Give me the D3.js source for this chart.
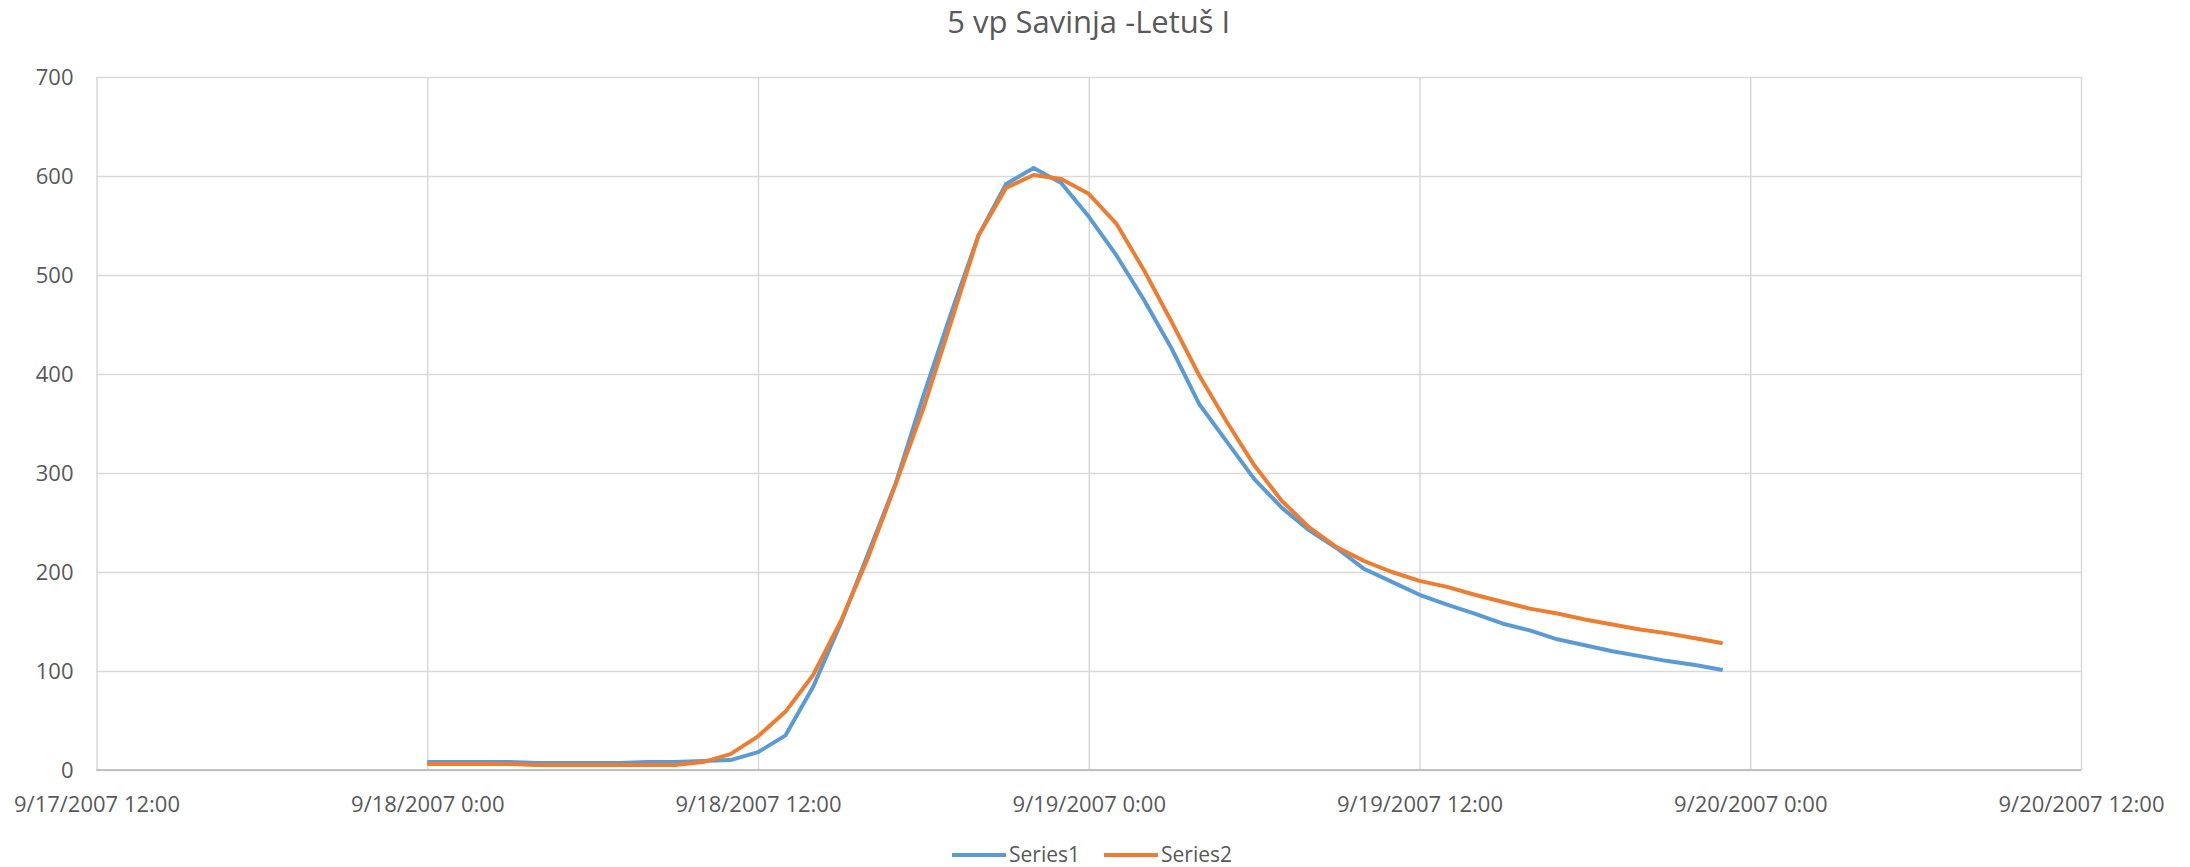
<!DOCTYPE html>
<html>
<head>
<meta charset="utf-8">
<script src="https://cdn.jsdelivr.net/npm/d3@7"></script>
<style>
	body { margin: 0; background: #fff; }
	#chart text { font-family: "Open Sans", sans-serif; fill: #595959; }
</style>
</head>
<body>
<div id="chart"></div>
<script>
var title = "5 vp Savinja -Letuš I";
var seriesNames = ["Series1", "Series2"];
var seriesColors = ["#5B9BD5", "#ED7D31"];

// hourly readings, 9/18/2007 0:00 .. 9/19/2007 23:00
var firstHour = "2007-09-18 00:00";
var lastHour = "2007-09-19 23:00";

var series1 = [8, 8, 8, 8, 7, 7, 7, 7, 8, 8,
	9, 10, 18, 35, 84, 148, 219, 290, 378, 461,
	540, 592, 608, 593, 559, 520, 475, 426, 370, 332,
	294, 265, 242, 224, 203, 190, 177, 167, 158, 148,
	141, 132, 126, 120, 115, 110, 106, 101];

var series2 = [6, 6, 6, 6, 5, 5, 5, 5, 5, 5,
	8, 16, 34, 59, 96, 150, 215, 289, 365, 452,
	540, 588, 601, 597, 582, 552, 505, 453, 399, 352,
	308, 272, 245, 225, 211, 200, 191, 185, 177, 170,
	163, 158, 152, 147, 142, 138, 133, 128];

var xDomain = ["2007-09-17 12:00", "2007-09-20 12:00"];
var yTicks = [0, 100, 200, 300, 400, 500, 600, 700];

function chart() {
	var W = 2190, H = 867;
	var margin = {top: 77, right: 109, bottom: 97, left: 96.5};
	var width = W - margin.left - margin.right;
	var height = H - margin.top - margin.bottom;

	var parse = d3.timeParse("%Y-%m-%d %H:%M");
	var hours = d3.timeHour.range(parse(firstHour), d3.timeHour.offset(parse(lastHour), 1));

	var x = d3.scaleTime().domain(xDomain.map(parse)).range([0, width]);
	var y = d3.scaleLinear().domain([0, 700]).range([height, 0]);
	var xTicks = d3.timeHour.every(12).range(x.domain()[0], d3.timeHour.offset(x.domain()[1], 1));

	var svg = d3.select("#chart").append("svg")
		.attr("width", W)
		.attr("height", H);

	svg.append("text")
		.attr("x", margin.left + width / 2)
		.attr("y", 33)
		.attr("text-anchor", "middle")
		.style("font-size", "31px")
		.text(title);

	var g = svg.append("g")
		.attr("transform", "translate(" + margin.left + "," + margin.top + ")");

	// horizontal gridlines + y labels
	var yAxis = g.append("g")
		.call(d3.axisLeft(y).tickValues(yTicks).tickSize(-width).tickPadding(23));
	yAxis.select(".domain").remove();
	yAxis.selectAll("line").attr("stroke", "#D9D9D9").attr("stroke-width", 1.5);
	yAxis.selectAll("text").style("font-size", "22px").attr("dy", "0.35em");

	// vertical gridlines + x labels
	var xAxis = g.append("g")
		.attr("transform", "translate(0," + height + ")")
		.call(d3.axisBottom(x).tickValues(xTicks).tickSize(-height).tickPadding(26)
			.tickFormat(d3.timeFormat("%-m/%-d/%Y %-H:%M")));
	xAxis.select(".domain").remove();
	xAxis.selectAll("line").attr("stroke", "#D9D9D9").attr("stroke-width", 1.5);
	xAxis.selectAll("text").style("font-size", "22px");

	// baseline
	g.append("line")
		.attr("x1", 0).attr("x2", width)
		.attr("y1", y(0)).attr("y2", y(0))
		.attr("stroke", "#BFBFBF").attr("stroke-width", 2);

	var line = d3.line()
		.x(function(d, i) { return x(hours[i]); })
		.y(function(d) { return y(d); });

	[series1, series2].forEach(function(s, k) {
		g.append("path")
			.datum(s)
			.attr("fill", "none")
			.attr("stroke", seriesColors[k])
			.attr("stroke-width", 4)
			.attr("stroke-linejoin", "round")
			.attr("d", line);
	});

	// legend
	var legendX = [952, 1104];
	var legend = svg.append("g");
	seriesNames.forEach(function(name, k) {
		legend.append("line")
			.attr("x1", legendX[k]).attr("x2", legendX[k] + 54)
			.attr("y1", 855).attr("y2", 855)
			.attr("stroke", seriesColors[k]).attr("stroke-width", 4);
		legend.append("text")
			.attr("x", legendX[k] + 57)
			.attr("y", 862)
			.style("font-size", "21px")
			.text(name);
	});
}

chart();
</script>
</body>
</html>
